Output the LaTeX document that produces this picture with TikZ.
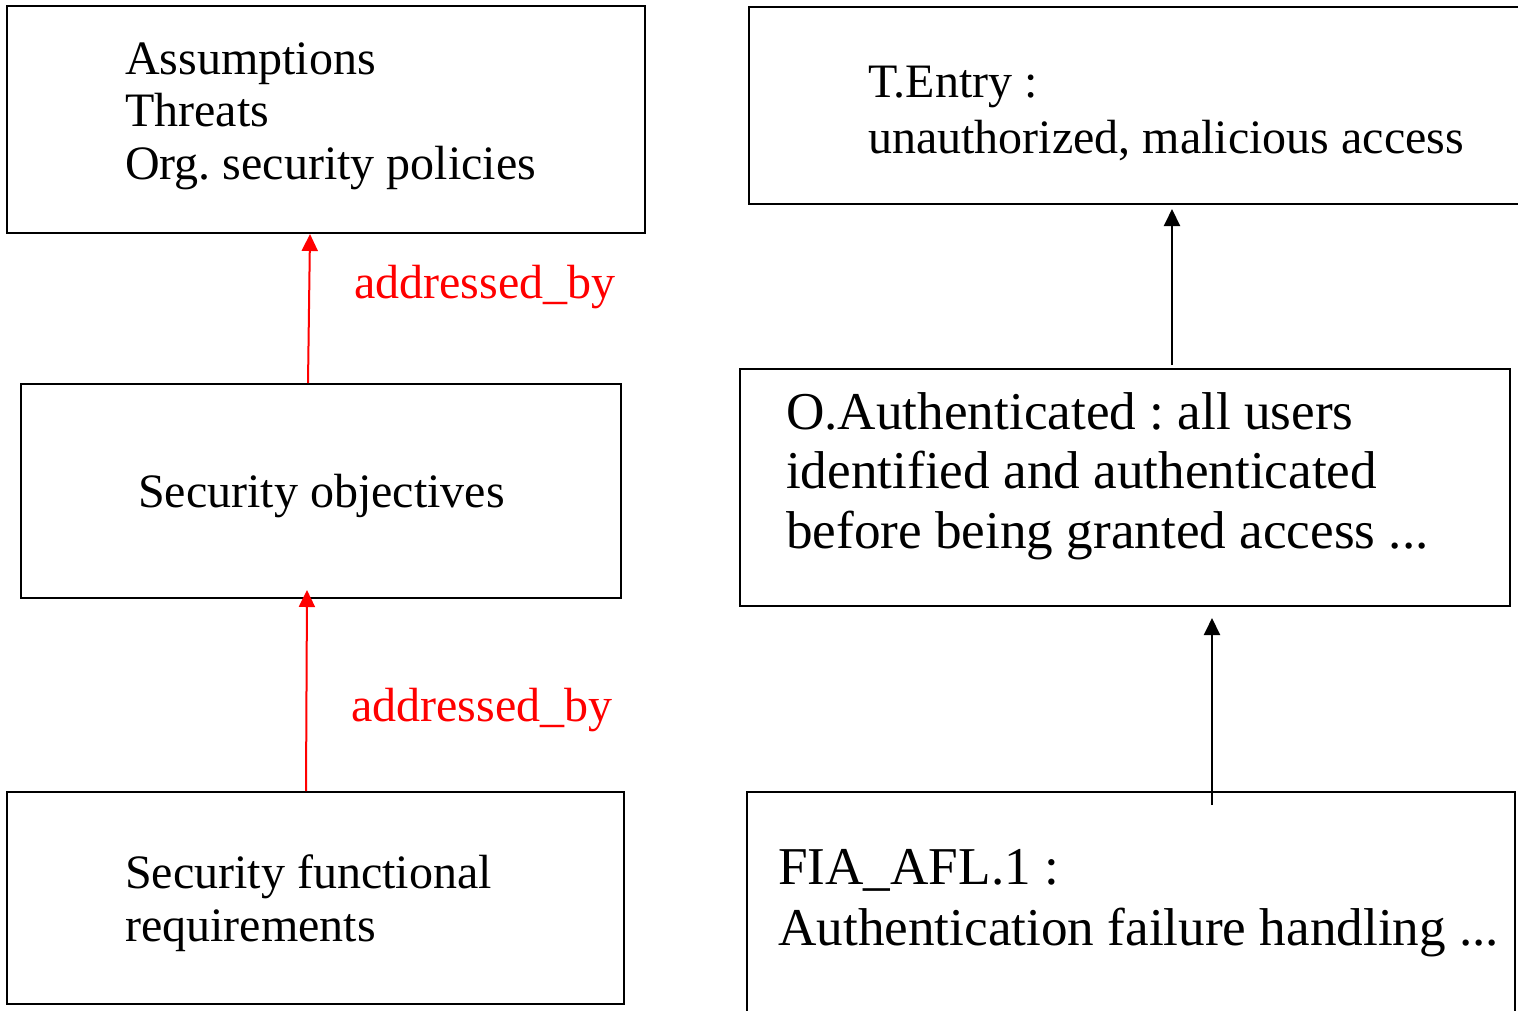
\documentclass[tikz,border=0pt]{standalone}
\usepackage{fontspec}
\setmainfont{Liberation Serif}
\usetikzlibrary{arrows.meta}
\frenchspacing
\tikzset{
  box/.style={draw=black, line width=2pt, minimum width=#1, inner sep=0pt, fill=none},
  txtL/.style={anchor=base west, inner sep=0pt, font=\fontsize{48}{52}\selectfont\frenchspacing},
  txtR/.style={anchor=base west, inner sep=0pt, font=\fontsize{53.2}{59}\selectfont\frenchspacing},
  redlbl/.style={anchor=base west, inner sep=0pt, text=red, font=\fontsize{48}{52}\selectfont},
  redarrow/.style={draw=red, line width=2pt, -{Triangle[length=17pt,width=16pt]}},
  blkarrow/.style={draw=black, line width=2pt, -{Triangle[length=17pt,width=16pt]}},
}
\begin{document}
\begin{tikzpicture}[x=1pt,y=-1pt]
\useasboundingbox (0,0) rectangle (1518,1010);
\clip (0,0) rectangle (1518,1010);
\fill[white] (0,0) rectangle (1518,1010);
% left column boxes
\node[box=638pt, minimum height=227pt] (asm) at (326,119.5) {};
\node[box=600pt, minimum height=214pt] (so)  at (321,491) {};
\node[box=617pt, minimum height=212pt] (sfr) at (315.5,898) {};
% right column boxes
\node[box=781pt, minimum height=197pt] (tentry) at (1139.5,105.5) {};
\node[box=770pt, minimum height=237pt] (auth)   at (1125,487.5) {};
\node[box=768pt, minimum height=238pt] (fia)    at (1131,911) {};
% texts left
\node[txtL] (asm1) at (125,74) {Assumptions};
\node[txtL] (asm2) at (125,126) {Threats};
\node[txtL] (asm3) at (125,179) {Org. security policies};
\node[txtL] (so1) at (138,507) {Security objectives};
\node[txtL] (sfr1) at (125,888) {Security functional};
\node[txtL] (sfr2) at (125,941) {requirements};
% texts right
\node[txtL] (te1) at (868,97) {T.Entry :};
\node[txtL] (te2) at (868,153) {unauthorized, malicious access};
\node[txtR] (au1) at (786,429) {O.Authenticated : all users};
\node[txtR] (au2) at (786,488) {identified and authenticated};
\node[txtR] (au3) at (786,548) {before being granted access ...};
\node[txtR] (fi1) at (778,884) {FIA\_AFL.1 :};
\node[txtR] (fi2) at (778,945) {Authentication failure handling ...};
% labels
\node[redlbl] (lbl1) at (354,298) {addressed\_by};
\node[redlbl] (lbl2) at (351,721) {addressed\_by};
% connectors
\draw[redarrow] ([xshift=-13pt]so.north) -- ([xshift=-16pt]asm.south);
\draw[redarrow] ([xshift=-9.5pt]sfr.north) -- ([xshift=-14pt,yshift=9pt]so.south);
\draw[blkarrow] ([xshift=47pt,yshift=3pt]auth.north) -- ([xshift=32.5pt,yshift=-4pt]tentry.south);
\draw[blkarrow] ([xshift=81pt,yshift=-14pt]fia.north) -- ([xshift=87pt,yshift=-11pt]auth.south);
\end{tikzpicture}
\end{document}
